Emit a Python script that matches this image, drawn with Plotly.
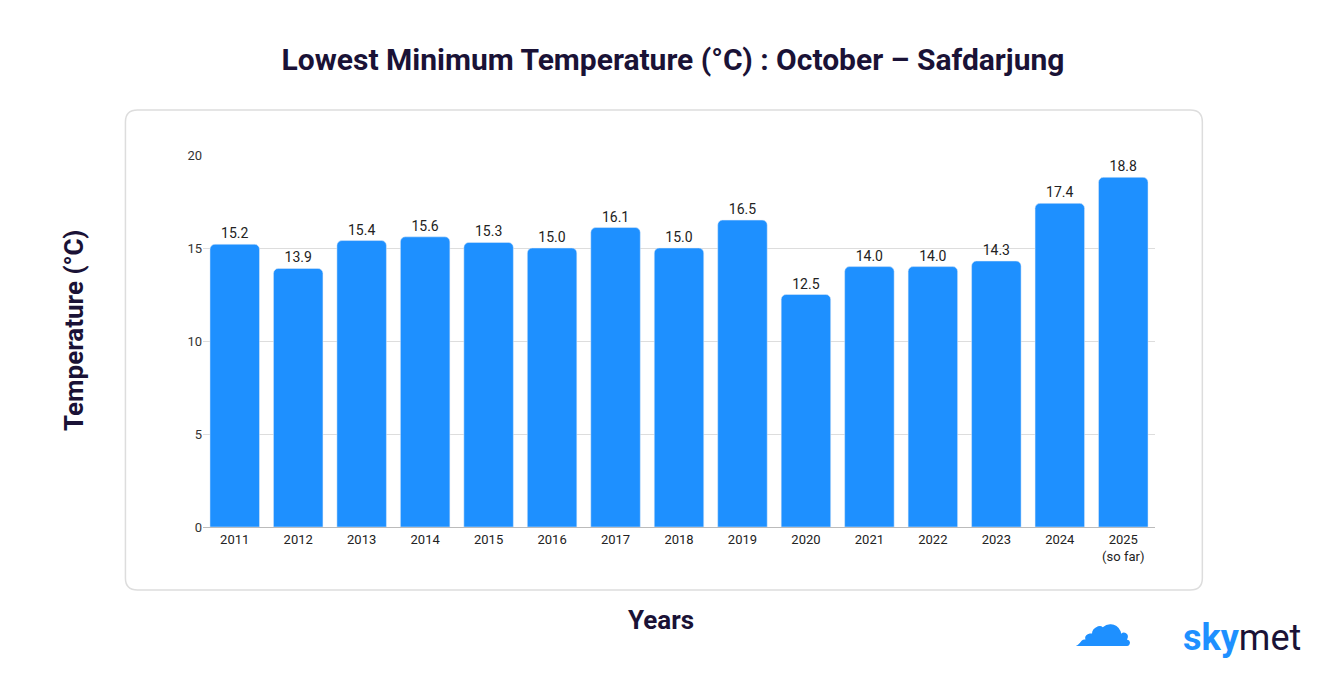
import plotly.graph_objects as go

years = ["2011","2012","2013","2014","2015","2016","2017","2018","2019","2020","2021","2022","2023","2024","2025<br>(so far)"]
values = [15.2,13.9,15.4,15.6,15.3,15.0,16.1,15.0,16.5,12.5,14.0,14.0,14.3,17.4,18.8]
yticks = [0,5,10,15,20]

fig = go.Figure(go.Bar(
    x=years, y=values, marker=dict(color="#1E90FF", cornerradius=5),
    text=[f"{v:.1f}" for v in values], textposition="outside",
    textfont=dict(size=14, color="#222", family="Roboto"), cliponaxis=False, width=0.78))

L, T, R, B = 133, 110, 1202, 590
def px(x): return (x - 210) / 945
def py(y): return (527 - y) / 372
r = 12
path = (f"M {px(L+r)} {py(T)} L {px(R-r)} {py(T)} Q {px(R)} {py(T)} {px(R)} {py(T+r)} "
        f"L {px(R)} {py(B-r)} Q {px(R)} {py(B)} {px(R-r)} {py(B)} L {px(L+r)} {py(B)} "
        f"Q {px(L)} {py(B)} {px(L)} {py(B-r)} L {px(L)} {py(T+r)} Q {px(L)} {py(T)} {px(L+r)} {py(T)} Z")

fig.update_layout(
    width=1330, height=700, paper_bgcolor="white", plot_bgcolor="white",
    margin=dict(l=195, r=183, t=147, b=181),
    font=dict(family="Roboto", color="#222"),
    title=dict(text="<b>Lowest Minimum Temperature (°C) : October – Safdarjung</b>",
               x=0.5, xanchor="center", y=0.927, yanchor="middle",
               font=dict(size=30, color="#1a1236", family="Roboto")),
    showlegend=False, bargap=0.22,
    shapes=[dict(type="path", xref="paper", yref="paper", path=path,
                 line=dict(color="#dddddd", width=1.5), layer="below")],
    annotations=[
        dict(text="<b>Years</b>", x=px(665), y=py(620), xref="paper", yref="paper", showarrow=False,
             yanchor="middle", font=dict(size=26, color="#1a1236")),
        dict(text="<b>Temperature (°C)</b>", x=px(65), y=py(330), xref="paper", yref="paper", showarrow=False,
             textangle=-90, font=dict(size=26, color="#1a1236")),
        dict(text="<b><span style='color:#1E90FF'>sky</span></b><span style='color:#1a1236'>met</span>",
             x=px(1302), y=py(638), xref="paper", yref="paper", showarrow=False, xanchor="right",
             yanchor="middle", font=dict(size=36, family="Roboto")),
        dict(text="☁", x=px(1135), y=py(625), xref="paper", yref="paper", showarrow=False,
             yanchor="middle", font=dict(size=60, color="#1E90FF", family="DejaVu Sans")),
    ],
)
fig.update_yaxes(range=[0,20], tickvals=yticks, showgrid=True, gridcolor="#dddddd",
                 tickfont=dict(size=13, color="#333"), zeroline=False, ticks="", ticklen=0)
fig.update_xaxes(tickfont=dict(size=13, color="#222"), showline=True, linecolor="#bbbbbb")
fig.write_html("out.html")
